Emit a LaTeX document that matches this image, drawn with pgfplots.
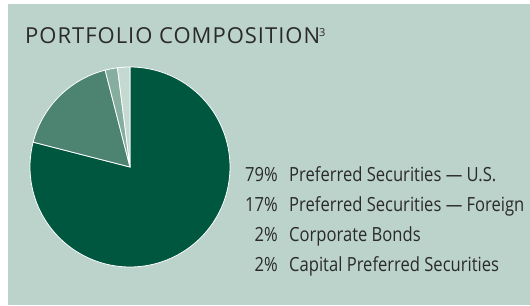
\documentclass[border=0pt]{standalone}
\usepackage{pgfplots}
\pgfplotsset{compat=1.18}
\usepackage{fontspec}
\setmainfont{Open Sans}
\newfontfamily\titlefont[LetterSpace=4.5]{Open Sans}
\newfontfamily\condfont[FakeStretch=0.85]{Open Sans}
\definecolor{panelbg}{HTML}{BCD3CB}
\definecolor{sA}{HTML}{00573F}
\definecolor{sB}{HTML}{4D8471}
\definecolor{sC}{HTML}{86AE9F}
\definecolor{sD}{HTML}{C4D9D1}
\definecolor{txt}{HTML}{2A2A2A}
\begin{document}
\begin{tikzpicture}[x=1bp,y=1bp]
\useasboundingbox (0,0) rectangle (530,305);
\fill[white] (0,0) rectangle (530,305);
\fill[panelbg] (8,0) rectangle (530,301);
\node[anchor=base west, inner sep=0pt, font=\titlefont\fontsize{22bp}{24bp}\selectfont, text=txt] at (25,262) {PORTFOLIO COMPOSITION\hspace{-1bp}\raisebox{6.5bp}{\fontsize{11bp}{12bp}\selectfont 3}};
\begin{axis}[
  at={(30bp,38bp)}, anchor=south west,
  width=200bp, height=200bp, scale only axis,
  xmin=-1, xmax=1, ymin=-1, ymax=1,
  hide axis, clip=false,
]
\addplot[fill=sA, draw=white, line width=0.8pt, domain=0:79, samples=120, variable=\t] ({cos(90-3.6*\t)},{sin(90-3.6*\t)}) -- (axis cs:0,0) -- cycle;
\addplot[fill=sB, draw=white, line width=0.8pt, domain=79:96, samples=40, variable=\t] ({cos(90-3.6*\t)},{sin(90-3.6*\t)}) -- (axis cs:0,0) -- cycle;
\addplot[fill=sC, draw=white, line width=0.8pt, domain=96:98, samples=10, variable=\t] ({cos(90-3.6*\t)},{sin(90-3.6*\t)}) -- (axis cs:0,0) -- cycle;
\addplot[fill=sD, draw=white, line width=0.8pt, domain=98:100, samples=10, variable=\t] ({cos(90-3.6*\t)},{sin(90-3.6*\t)}) -- (axis cs:0,0) -- cycle;
\end{axis}
\begin{scope}[every node/.style={inner sep=0pt, text=txt, font=\condfont\fontsize{19.5bp}{21bp}\selectfont}]
\node[anchor=base east] at (278,124) {79\%};
\node[anchor=base west] at (289,124) {Preferred Securities — U.S.};
\node[anchor=base east] at (278,94) {17\%};
\node[anchor=base west] at (289,94) {Preferred Securities — Foreign};
\node[anchor=base east] at (278,64) {2\%};
\node[anchor=base west] at (289,64) {Corporate Bonds};
\node[anchor=base east] at (278,34) {2\%};
\node[anchor=base west] at (289,34) {Capital Preferred Securities};
\end{scope}
\end{tikzpicture}
\end{document}
